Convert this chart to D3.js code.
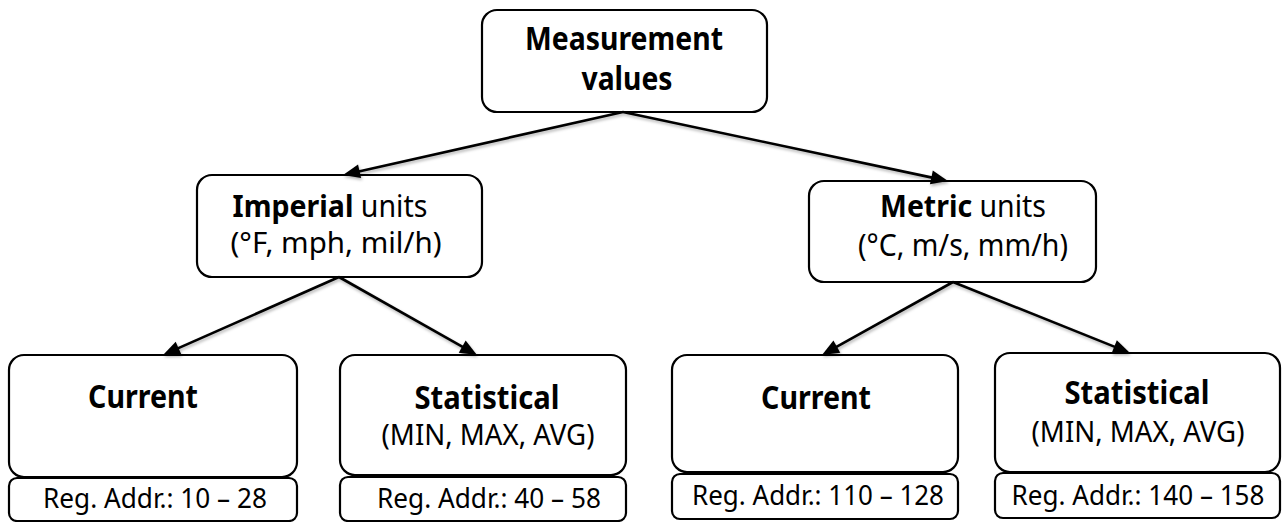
<!DOCTYPE html>
<html><head><meta charset="utf-8">
<script src="https://cdn.jsdelivr.net/npm/d3@7"></script>
<style>html,body{margin:0;padding:0;background:#fff;} svg{display:block}</style>
</head><body><svg id="c" width="1282" height="522"></svg>
<script>
// ---- content ----
const nodeIds   = ["root","imperial","metric","impCur","impStat","metCur","metStat"];
const parentIds = [null,"root","root","imperial","imperial","metric","metric"];
const line1Bold = ["Measurement","Imperial","Metric","Current","Statistical","Current","Statistical"];
const line1Rest = [""," units"," units","","","",""];
const line2Bold = ["values","","","","","",""];
const line2Reg  = ["","(°F, mph, mil/h)","(°C, m/s, mm/h)","","(MIN, MAX, AVG)","","(MIN, MAX, AVG)"];
const regLabels = ["","","","Reg. Addr.: 10 – 28","Reg. Addr.: 40 – 58","Reg. Addr.: 110 – 128","Reg. Addr.: 140 – 158"];

// ---- layout (positions/sizes only) ----
const layout = {
  root:    {box:[482,10,285,102],  exitX:623, l1:[624,50,198,32], l2:[627,90,91,32]},
  imperial:{box:[197,175,285,102], entryX:343, exitX:339, l1:[330,217,195,30], l2:[336,253,211,29]},
  metric:  {box:[809,181,287,101], entryX:948, exitX:953, l1:[963,217,166,31], l2:[963,256,210,30]},
  impCur:  {box:[9,355,288,122],   entryX:163, l1:[143,408,110,32], reg:[9,478,288,43],  rt:[155,508,224,27]},
  impStat: {box:[340,355,286,120], entryX:477, l1:[487,409,145,32], l2:[488,445,213,29], reg:[340,477,286,44], rt:[489,508,224,27]},
  metCur:  {box:[672,355,286,117], entryX:822, l1:[816,409,110,32], reg:[672,474,286,45], rt:[818,505,252,27]},
  metStat: {box:[995,353,285,119], entryX:1130, l1:[1137,404,145,32], l2:[1138,442,213,29], reg:[995,473,285,45], rt:[1138,505,253,27]}
};
const FONT = "'Noto Sans', 'Open Sans', sans-serif";

const svg = d3.select("#c");
const defs = svg.append("defs");
const f = defs.append("filter").attr("id","sh").attr("x","-20%").attr("y","-20%").attr("width","140%").attr("height","140%");
f.append("feDropShadow").attr("dx",1).attr("dy",2).attr("stdDeviation",1.6).attr("flood-color","#000").attr("flood-opacity",0.3);

const nodes = nodeIds.map((id,i)=>({id, parent:parentIds[i], b1:line1Bold[i], r1:line1Rest[i], b2:line2Bold[i], r2:line2Reg[i], reg:regLabels[i], L:layout[id]}));
const byId = Object.fromEntries(nodes.map(n=>[n.id,n]));

// boxes
const gBox = svg.append("g");
nodes.forEach(n=>{
  const [x,y,w,h] = n.L.box;
  gBox.append("rect").attr("x",x).attr("y",y).attr("width",w).attr("height",h)
    .attr("rx",15).attr("ry",15).attr("fill","#fff").attr("stroke","#000").attr("stroke-width",2.2);
  if (n.reg) {
    const [rx,ry,rw,rh] = n.L.reg;
    gBox.append("rect").attr("x",rx).attr("y",ry).attr("width",rw).attr("height",rh)
      .attr("rx",8).attr("ry",8).attr("fill","#fff").attr("stroke","#000").attr("stroke-width",2.2);
  }
});

// arrows
const gArr = svg.append("g").attr("filter","url(#sh)");
nodes.filter(n=>n.parent).forEach(n=>{
  const p = byId[n.parent];
  const x0 = p.L.exitX, y0 = p.L.box[1]+p.L.box[3];
  const x1 = n.L.entryX, y1 = n.L.box[1];
  const dx = x1-x0, dy = y1-y0, len = Math.hypot(dx,dy);
  const ux = dx/len, uy = dy/len, hl = 17, hw = 7;
  const bx = x1-ux*hl, by = y1-uy*hl;
  gArr.append("line").attr("x1",x0).attr("y1",y0).attr("x2",bx+ux*2).attr("y2",by+uy*2)
    .attr("stroke","#000").attr("stroke-width",2.6);
  gArr.append("path").attr("d",d3.line()([[x1,y1],[bx-uy*hw,by+ux*hw],[bx+uy*hw,by-ux*hw]])+"Z")
    .attr("fill","#000");
});

// text: one line = one <text> with tspans, horizontally condensed by a group transform
const gTxt = svg.append("g").attr("font-family",FONT).attr("fill","#000");
function addText(spec, parts){
  const [cx,base,tw,fs] = spec;
  const g = gTxt.append("g");
  const t = g.append("text").attr("x",0).attr("y",0).attr("font-size",fs)
    .attr("text-anchor","middle").attr("xml:space","preserve").style("white-space","pre");
  parts.filter(p=>p[0]).forEach(([s,bold])=>t.append("tspan").attr("font-weight",bold?700:400).text(s));
  const w = t.node().getComputedTextLength();
  const k = tw/w;
  g.attr("transform",`translate(${cx},${base}) scale(${k},1)`);
}
nodes.forEach(n=>{
  addText(n.L.l1, [[n.b1,true],[n.r1,false]]);
  if (n.b2 || n.r2) addText(n.L.l2, [[n.b2,true],[n.r2,false]]);
  if (n.reg) addText(n.L.rt, [[n.reg,false]]);
});
</script></body></html>
